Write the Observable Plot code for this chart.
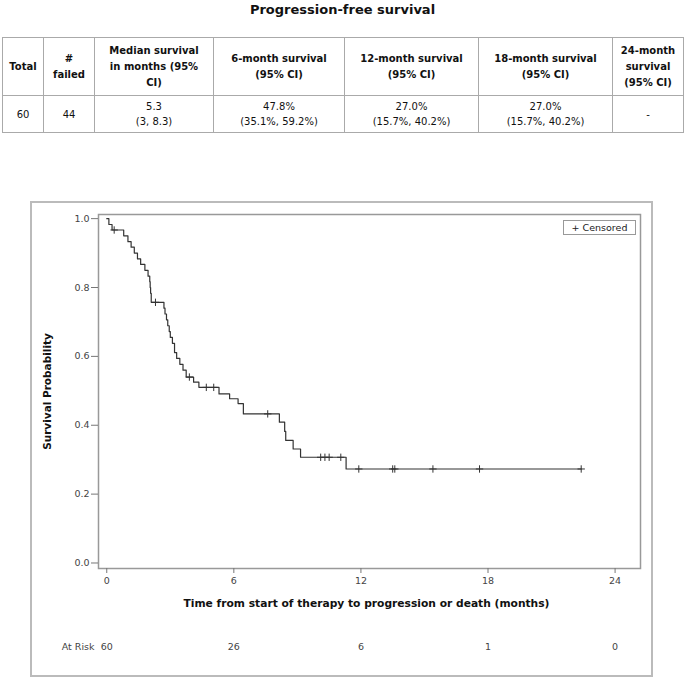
<!DOCTYPE html>
<html><head><meta charset="utf-8">
<script src="https://cdn.jsdelivr.net/npm/d3@7"></script>
<script src="https://cdn.jsdelivr.net/npm/@observablehq/plot@0.6"></script>
<style>
body{margin:0;background:#fff;font-family:"DejaVu Sans",sans-serif;color:#111;}
#page{position:relative;width:685px;height:685px;overflow:hidden;}
#title{position:absolute;top:2px;left:0;width:685px;text-align:center;font-weight:bold;font-size:13px;line-height:16px;}
table{position:absolute;left:2px;top:37px;border-collapse:collapse;font-size:10px;table-layout:fixed;}
td,th{border:1.5px solid #aaa;text-align:center;padding:0;}
th{font-weight:bold;height:57px;line-height:16px;}
td{height:36px;line-height:15px;}
#box{position:absolute;left:30px;top:201px;width:619px;height:472px;border:2px solid #bbb;}
#chart{position:absolute;left:30px;top:201px;}
#legend{position:absolute;left:563px;top:220px;width:71px;height:13px;border:1px solid #999;font-size:9.5px;line-height:13px;text-align:center;background:#fff;color:#222;}
</style></head>
<body><div id="page">
<div id="title"></div>
<table id="tbl"></table>
<div id="box"></div>
<div id="chart"></div>
<div id="legend"></div>
</div>
<script>
const titleText = "Progression-free survival";
const tableHeaders = ["Total", "#<br>failed", "Median survival<br>in months (95%<br>CI)", "6-month survival<br>(95% CI)", "12-month survival<br>(95% CI)", "18-month survival<br>(95% CI)", "24-month<br>survival<br>(95% CI)"];
const tableValues = ["60", "44", "5.3<br>(3, 8.3)", "47.8%<br>(35.1%, 59.2%)", "27.0%<br>(15.7%, 40.2%)", "27.0%<br>(15.7%, 40.2%)", "-"];
const colWidths = [41, 51, 119, 131, 134, 134, 71];

const stepTimes = [0, 0.1, 0.25, 0.8, 1.0, 1.15, 1.3, 1.45, 1.6, 1.8, 1.95, 2.03, 2.05, 2.07, 2.1, 2.7, 2.75, 2.82, 2.88, 2.95, 3.0, 3.1, 3.2, 3.3, 3.45, 3.6, 3.75, 4.1, 4.35, 5.3, 5.8, 6.2, 6.45, 8.15, 8.4, 8.45, 8.8, 9.15, 11.3, 22.4];
const stepSurv = [1.0, 0.983, 0.967, 0.95, 0.933, 0.917, 0.9, 0.883, 0.867, 0.85, 0.833, 0.817, 0.8, 0.783, 0.757, 0.74, 0.723, 0.706, 0.689, 0.672, 0.655, 0.638, 0.611, 0.594, 0.577, 0.56, 0.54, 0.525, 0.51, 0.491, 0.477, 0.463, 0.433, 0.409, 0.382, 0.356, 0.331, 0.307, 0.273, 0.273];
const censorTimes = [0.35, 2.3, 3.9, 4.7, 5.05, 7.6, 10.1, 10.3, 10.5, 11.05, 11.9, 13.5, 13.6, 15.4, 17.6, 22.4];
const censorSurv = [0.967, 0.757, 0.54, 0.51, 0.51, 0.433, 0.307, 0.307, 0.307, 0.307, 0.273, 0.273, 0.273, 0.273, 0.273, 0.273];
const xTicks = [0, 6, 12, 18, 24];
const yTicks = [0, 0.2, 0.4, 0.6, 0.8, 1.0];
const atRiskTimes = [0, 6, 12, 18, 24];
const atRiskCounts = [60, 26, 6, 1, 0];
const xLabel = "Time from start of therapy to progression or death (months)";
const yLabel = "Survival Probability";
const atRiskLabel = "At Risk";
const legendText = "+ Censored";

document.getElementById("title").textContent = titleText;
document.getElementById("legend").textContent = legendText;
const tbl = document.getElementById("tbl");
tbl.innerHTML = "<colgroup>" + colWidths.map(w => `<col style="width:${w}px">`).join("") + "</colgroup>" +
  "<tr>" + tableHeaders.map(h => `<th>${h}</th>`).join("") + "</tr>" +
  "<tr>" + tableValues.map(v => `<td>${v}</td>`).join("") + "</tr>";

const curve = stepTimes.map((t, i) => ({t, s: stepSurv[i]}));
const censors = censorTimes.map((t, i) => ({t, s: censorSurv[i]}));
const atRisk = atRiskTimes.map((t, i) => ({t, n: atRiskCounts[i]}));

const chart = Plot.plot({
  width: 623, height: 476,
  marginLeft: 68, marginTop: 13, marginRight: 13, marginBottom: 109,
  style: {fontFamily: "DejaVu Sans, sans-serif", fontSize: "9.5px", background: "transparent", color: "#333"},
  x: {domain: [-0.39, 25.2]},
  y: {domain: [-0.016, 1.012]},
  marks: [
    Plot.frame({stroke: "#999", strokeWidth: 1.5}),
    Plot.axisX({ticks: xTicks, tickSize: 5, tickPadding: 4, label: null, stroke: "#777", fill: "#444"}),
    Plot.axisY({ticks: yTicks, tickSize: 7, tickPadding: 2, tickFormat: d3.format(".1f"), label: null, stroke: "#777", fill: "#444"}),
    Plot.line(curve, {x: "t", y: "s", curve: "step-after", stroke: "#333", strokeWidth: 1.2}),
    Plot.dot(censors, {x: "t", y: "s", symbol: "plus", r: 2.5, stroke: "#333", strokeWidth: 1}),
    Plot.text([xLabel], {frameAnchor: "bottom", dx: -3, dy: 38, textAnchor: "middle", text: d => d, fontWeight: "bold", fontSize: 10.7, fill: "#111"}),
    Plot.text([yLabel], {frameAnchor: "left", dx: -51, rotate: -90, textAnchor: "middle", text: d => d, fontWeight: "bold", fontSize: 10.5, fill: "#111"}),
    Plot.text(atRisk, {x: "t", frameAnchor: "bottom", dy: 81, textAnchor: "middle", text: "n", fontSize: 9.5, fill: "#444"}),
    Plot.text([atRiskLabel], {frameAnchor: "bottom-left", dx: -4, dy: 81, textAnchor: "end", text: d => d, fontSize: 9.5, fill: "#444"})
  ]
});
document.getElementById("chart").appendChild(chart);
</script>
</body></html>
